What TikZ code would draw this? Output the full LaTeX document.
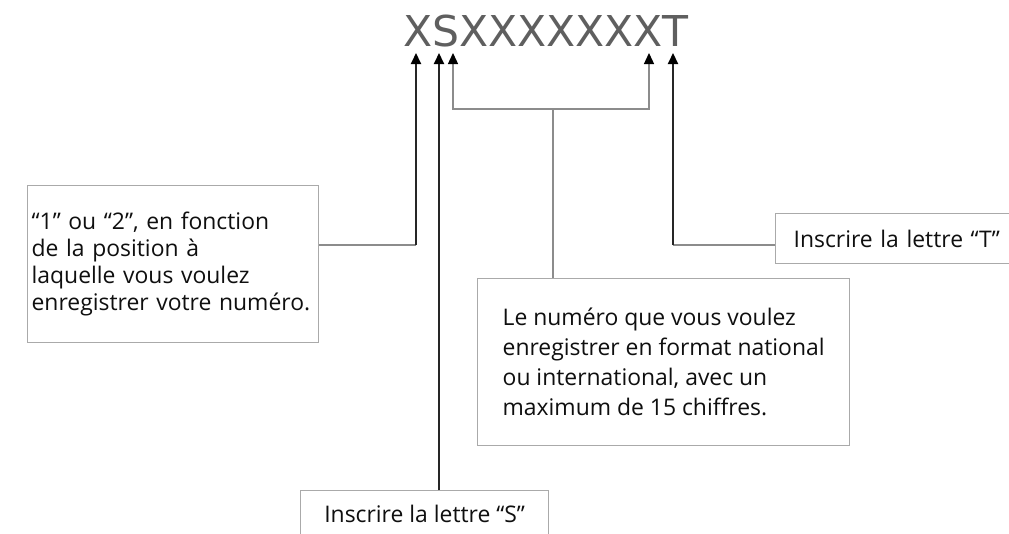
\documentclass[tikz,border=0pt]{standalone}
\usepackage{fontspec}
\setmainfont{Open Sans}
\newfontfamily\codefont{DejaVu Sans}
\usetikzlibrary{arrows.meta}
\definecolor{boxgray}{RGB}{170,170,170}
\definecolor{linegray}{RGB}{140,140,140}
\definecolor{codegray}{RGB}{95,95,95}
\definecolor{txtcol}{RGB}{15,15,15}
\begin{document}
\begin{tikzpicture}[x=1pt,y=-1pt,
  box/.style={draw=boxgray, line width=1.3pt, fill=white, text=txtcol, align=left, inner ysep=0pt},
  mainline/.style={draw=black!85, line width=2pt},
  thinline/.style={draw=linegray, line width=1.3pt},
  tip/.style={-{Triangle[length=11pt,width=10pt,fill=black,color=black]}},
  tips/.style={{Triangle[length=11pt,width=10pt,fill=black,color=black]}-{Triangle[length=11pt,width=10pt,fill=black,color=black]}}
]
\clip (0,0) rectangle (1009,533);
\fill[white] (0,0) rectangle (1009,533);

\node[font=\codefont\fontsize{42.5}{42.5}\selectfont, text=codegray, anchor=base west, inner sep=0pt] (code) at (403,46) {XSXXXXXXXT};

\node[box, font=\fontsize{22.9}{27}\selectfont, anchor=north west, minimum width=291pt, minimum height=157pt, text width=283pt, inner xsep=4pt] (b1) at (27,185)
  {“1” ou “2”, en fonction\\de la position à\\laquelle vous voulez\\enregistrer votre numéro.};

\node[box, font=\fontsize{22.9}{30}\selectfont, anchor=north west, minimum width=372pt, minimum height=167pt, inner xsep=20pt] (b3) at (477,278)
  {Le numéro que vous voulez\\enregistrer en format national\\ou international, avec un\\maximum de 15 chiffres.};

\node[box, font=\fontsize{22.9}{27}\selectfont, anchor=north west, minimum width=248pt, minimum height=46pt, align=center] (bS) at (300,490)
  {Inscrire la lettre “S”};

\node[box, font=\fontsize{22.9}{27}\selectfont, anchor=north west, minimum height=50pt, text width=230pt, inner xsep=18pt] (bT) at (775,213)
  {Inscrire la lettre “T”};

\coordinate (t1) at (416,53);
\coordinate (t2) at (439,53);
\coordinate (t3) at (453,53);
\coordinate (t4) at (649,53);
\coordinate (t5) at (673,53);
\coordinate (j1) at (416,245);
\coordinate (j5) at (673,245);
\coordinate (br) at (553,109);

\draw[thinline] (b1.east |- j1) -- (j1);
\draw[mainline, tip] (j1) -- (t1);
\draw[mainline, tip] (bS.north -| t2) -- (t2);
\draw[thinline] (bT.west |- j5) -- (j5);
\draw[mainline, tip] (j5) -- (t5);
\draw[thinline, tips] (t3) -- (t3 |- br) -- (t4 |- br) -- (t4);
\draw[thinline] (br) -- (br |- b3.north);
\end{tikzpicture}
\end{document}
